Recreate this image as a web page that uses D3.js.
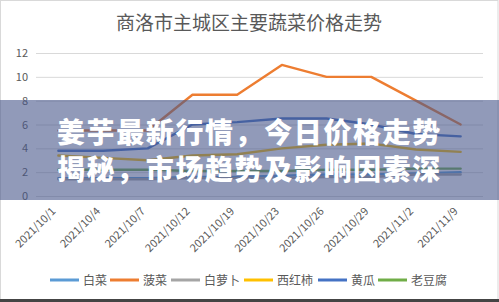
<!DOCTYPE html>
<html>
<head>
<meta charset="utf-8">
<script src="https://cdn.jsdelivr.net/npm/d3@7/dist/d3.min.js"></script>
<style>
html,body{margin:0;padding:0;background:#fff;}
svg{display:block;}
</style>
</head>
<body>
<svg id="c" width="499" height="302"></svg>
<script>
const categories = ["2021/10/1","2021/10/4","2021/10/7","2021/10/12","2021/10/19","2021/10/23","2021/10/26","2021/10/29","2021/11/2","2021/11/9"];
const seriesNames = ["白菜","菠菜","白萝卜","西红柿","黄瓜","老豆腐"];
const baicai   = [1.5,1.5,1.5,1.6,1.6,1.7,1.8,1.8,1.9,2.0];
const bocai    = [5.5,5.5,5.5,8.5,8.5,11,10,10,8,6];
const bailuobo = [1.4,1.4,1.4,1.5,1.5,1.5,1.6,1.6,1.8,1.8];
const xihongshi= [3.4,3.2,3.0,3.4,3.5,4.0,4.3,4.4,3.9,3.7];
const huanggua = [3.8,3.8,4.0,6.0,6.2,6.5,6.5,6.0,5.2,5.0];
const laodoufu  = [2.2,2.2,2.2,2.1,2.1,2.1,2.2,2.2,2.3,2.3];
const yTicks = [0,2,4,6,8,10,12];
const title = "商洛市主城区主要蔬菜价格走势";
const bannerLines = ["姜芋最新行情，今日价格走势","揭秘，市场趋势及影响因素深"];

const seriesValues = [baicai,bocai,bailuobo,xihongshi,huanggua,laodoufu];
const colors = ["#5B9BD5","#ED7D31","#A5A5A5","#FFC000","#4472C4","#70AD47"];

const svg = d3.select("#c");
const W = 499, H = 302;
const font = "'Noto Sans CJK SC','Microsoft YaHei',sans-serif";

// frame
svg.append("rect").attr("x",0.5).attr("y",0.5).attr("width",W-1.5).attr("height",H-3)
  .attr("fill","#fff").attr("stroke","#d9d9d9");
svg.append("rect").attr("x",0).attr("y",299).attr("width",W).attr("height",3).attr("fill","#444");

svg.append("text").attr("x",249).attr("y",30).attr("text-anchor","middle")
  .attr("font-family",font).attr("font-size",19).attr("fill","#595959").text(title);

const x = d3.scaleBand().domain(categories).range([36,483]);
const y = d3.scaleLinear().domain([0,12]).range([196,53]);

// grid
const yAxis = d3.axisLeft(y).tickValues(yTicks).tickSize(-(483-36)).tickPadding(8);
const gy = svg.append("g").attr("transform","translate(36,0)").call(yAxis);
gy.select(".domain").remove();
gy.selectAll(".tick line").attr("stroke","#d9d9d9").attr("stroke-width",1);
gy.selectAll(".tick text").attr("font-family",font).attr("font-size",11).attr("fill","#595959");

// x labels
const xAxis = d3.axisBottom(x).tickSize(0).tickPadding(0);
const gx = svg.append("g").attr("transform","translate(0,196)").call(xAxis);
gx.select(".domain").remove();
gx.selectAll(".tick text")
  .attr("font-family",font).attr("font-size",11).attr("fill","#595959")
  .attr("text-anchor","end").attr("dy",0).attr("y",0)
  .attr("transform","translate(-2,16) rotate(-45)");

// lines
const line = d3.line().x((d,i)=>x(categories[i])+x.bandwidth()/2).y(d=>y(d));
seriesValues.forEach((vals,k)=>{
  svg.append("path").datum(vals).attr("d",line).attr("fill","none")
    .attr("stroke",colors[k]).attr("stroke-width",2.4).attr("stroke-linejoin","round").attr("stroke-linecap","round");
});

// legend
const legendX = [50,110,171,244,318,378];
const lg = svg.append("g");
seriesNames.forEach((n,k)=>{
  lg.append("line").attr("x1",legendX[k]).attr("x2",legendX[k]+29).attr("y1",280).attr("y2",280)
    .attr("stroke",colors[k]).attr("stroke-width",3);
  lg.append("text").attr("x",legendX[k]+33).attr("y",284.5).attr("font-family",font)
    .attr("font-size",12).attr("fill","#595959").text(n);
});

// banner overlay
svg.append("rect").attr("x",0).attr("y",100).attr("width",W).attr("height",100)
  .attr("fill","rgb(72,86,138)").attr("fill-opacity",0.6);
bannerLines.forEach((t,i)=>{
  svg.append("text").attr("x",57).attr("y",143+i*37).attr("font-family",font)
    .attr("font-size",28).attr("letter-spacing",1.6).attr("font-weight",900).attr("fill","#fff").text(t);
});
</script>
</body>
</html>
